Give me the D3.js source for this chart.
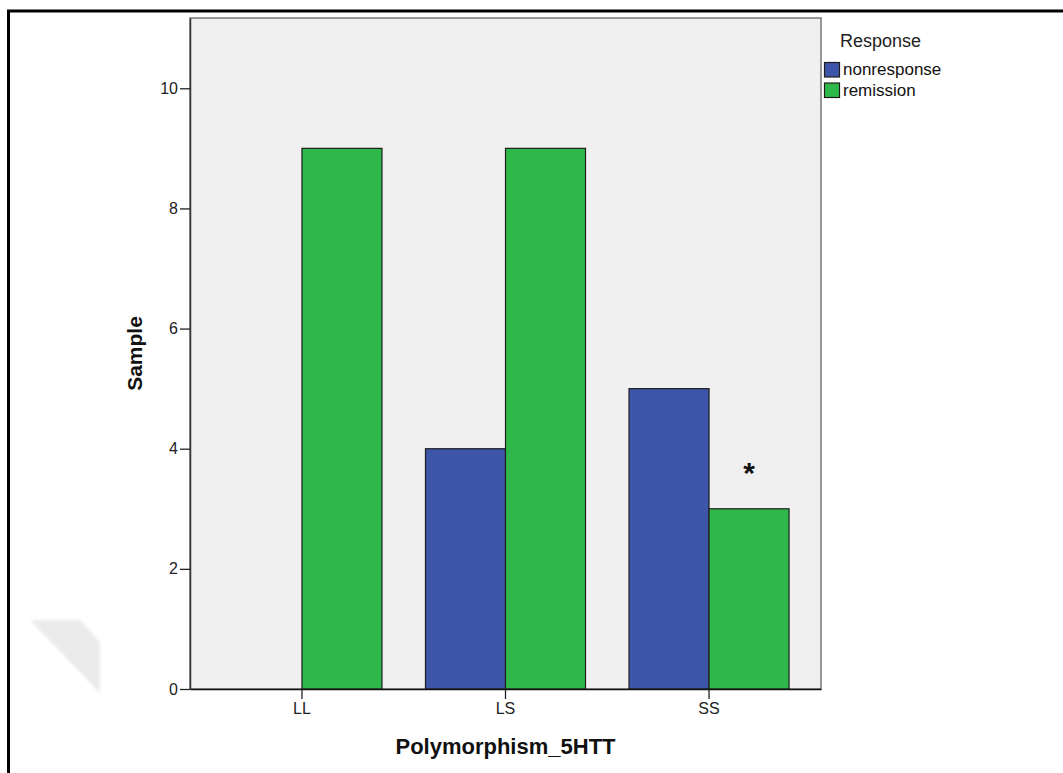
<!DOCTYPE html>
<html>
<head>
<meta charset="utf-8">
<script src="https://cdn.jsdelivr.net/npm/d3@7"></script>
<style>
  html, body { margin: 0; padding: 0; background: #fff; }
  svg { display: block; font-family: "Liberation Sans", Arial, sans-serif; }
</style>
</head>
<body>
<svg id="chart" width="1063" height="773"></svg>
<script>
// Counts of response outcome by 5-HTT polymorphism
const categories = ["LL", "LS", "SS"];
const responses = ["nonresponse", "remission"];
const nonresponse = [0, 4, 5];
const remission = [9, 9, 3];
const yTicks = [0, 2, 4, 6, 8, 10];
const colors = ["#3d56a9", "#2fb84a"];

const rows = categories.map((c, i) => ({
  category: c,
  values: [
    { key: responses[0], value: nonresponse[i] },
    { key: responses[1], value: remission[i] }
  ]
}));

const svg = d3.select("#chart");
const plot = { left: 190, right: 821, top: 18, bottom: 689 };

// outer frame
svg.append("rect")
  .attr("x", 8.5).attr("y", 11)
  .attr("width", 1100).attr("height", 800)
  .attr("fill", "none").attr("stroke", "#000").attr("stroke-width", 3);

// faint folded-corner shape on the left
const defs = svg.append("defs");
defs.append("filter").attr("id", "soft")
  .append("feGaussianBlur").attr("stdDeviation", 1.5);
svg.append("polygon")
  .attr("points", "30,620 80,620 100,642 100,693")
  .attr("fill", "#ebebeb")
  .attr("filter", "url(#soft)");

const x0 = d3.scaleBand()
  .domain(categories)
  .range([plot.left, plot.right])
  .paddingInner(0.2138)
  .paddingOuter(0.157);

const x1 = d3.scaleBand()
  .domain(responses)
  .range([0, x0.bandwidth()]);

const y = d3.scaleLinear()
  .domain([0, 11.17])
  .range([plot.bottom, plot.top]);

const color = d3.scaleOrdinal().domain(responses).range(colors);

// plot background
svg.append("rect")
  .attr("x", plot.left).attr("y", plot.top)
  .attr("width", plot.right - plot.left)
  .attr("height", plot.bottom - plot.top)
  .attr("fill", "#f0f0f0")
  .attr("stroke", "#777").attr("stroke-width", 1.5);

// bars
const groups = svg.append("g").selectAll("g")
  .data(rows).join("g")
  .attr("transform", d => `translate(${x0(d.category)},0)`);

groups.selectAll("rect")
  .data(d => d.values.filter(v => v.value > 0))
  .join("rect")
  .attr("x", d => x1(d.key))
  .attr("y", d => y(d.value))
  .attr("width", x1.bandwidth())
  .attr("height", d => y(0) - y(d.value))
  .attr("fill", d => color(d.key))
  .attr("stroke", "#1e1e1e")
  .attr("stroke-width", 1.2);

// significance marker above SS remission
const ssIdx = categories.indexOf("SS");
svg.append("text")
  .attr("x", x0("SS") + x1("remission") + x1.bandwidth() / 2)
  .attr("y", y(remission[ssIdx]) - 26)
  .attr("text-anchor", "middle")
  .attr("font-size", 30)
  .attr("font-weight", "bold")
  .attr("fill", "#111")
  .text("*");

// y axis
const yAxis = svg.append("g")
  .attr("transform", `translate(${plot.left},0)`)
  .call(d3.axisLeft(y).tickValues(yTicks).tickSize(10).tickSizeOuter(0).tickPadding(2).tickFormat(d3.format("d")));
yAxis.select(".domain").attr("stroke", "#333").attr("stroke-width", 1.5);
yAxis.selectAll(".tick line").attr("stroke", "#222").attr("stroke-width", 1.3);
yAxis.selectAll(".tick text")
  .attr("font-size", 16).attr("fill", "#222")
  .attr("font-family", "Liberation Sans, Arial, sans-serif");

// x axis
const xAxis = svg.append("g")
  .attr("transform", `translate(0,${plot.bottom})`)
  .call(d3.axisBottom(x0).tickSize(10).tickSizeOuter(0).tickPadding(4));
xAxis.select(".domain").attr("stroke", "#111").attr("stroke-width", 1.5);
xAxis.selectAll(".tick line").attr("stroke", "#222").attr("stroke-width", 1.3);
xAxis.selectAll(".tick text")
  .attr("font-size", 16).attr("fill", "#222")
  .attr("font-family", "Liberation Sans, Arial, sans-serif");

// axis titles
svg.append("text")
  .attr("x", (plot.left + plot.right) / 2)
  .attr("y", 754)
  .attr("text-anchor", "middle")
  .attr("font-size", 22).attr("font-weight", "bold").attr("fill", "#111")
  .text("Polymorphism_5HTT");

svg.append("text")
  .attr("transform", `translate(142,${(plot.top + plot.bottom) / 2}) rotate(-90)`)
  .attr("text-anchor", "middle")
  .attr("font-size", 21).attr("font-weight", "bold").attr("fill", "#111")
  .text("Sample");

// legend
const legend = svg.append("g").attr("transform", "translate(824,0)");
legend.append("text")
  .attr("x", 16).attr("y", 47)
  .attr("font-size", 18).attr("fill", "#222")
  .text("Response");
const items = legend.selectAll("g.item")
  .data(responses).join("g")
  .attr("class", "item")
  .attr("transform", (d, i) => `translate(0,${62 + i * 20.5})`);
items.append("rect")
  .attr("x", 0.5).attr("y", 0.5)
  .attr("width", 15).attr("height", 14.5)
  .attr("fill", d => color(d))
  .attr("stroke", "#1e1e1e").attr("stroke-width", 1.2);
items.append("text")
  .attr("x", 19).attr("y", 13)
  .attr("font-size", 17).attr("fill", "#111")
  .text(d => d);
</script>
</body>
</html>
